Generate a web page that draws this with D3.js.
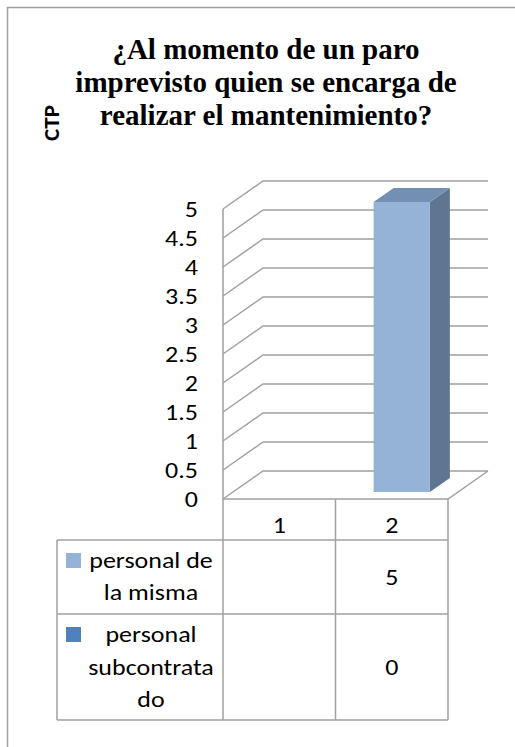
<!DOCTYPE html>
<html>
<head>
<meta charset="utf-8">
<script src="https://cdn.jsdelivr.net/npm/d3@7"></script>
<style>
    body { margin: 0; background: #fff; }
</style>
</head>
<body>
<div id="chart"></div>
<script>
    // chart data
    var titleLines = ["¿Al momento de un paro", "imprevisto quien se encarga de", "realizar el mantenimiento?"];
    var categories = ["1", "2"];
    var seriesNames = [["personal de", "la misma"], ["personal", "subcontrata", "do"]];
    var seriesColors = ["#95B3D7", "#4F81BD"];
    var series1 = [null, 5];
    var series2 = [null, 0];
    var yTicks = [0, 0.5, 1, 1.5, 2, 2.5, 3, 3.5, 4, 4.5, 5];

    var width = 515, height = 747;
    var svg = d3.select("#chart").append("svg")
        .attr("width", width)
        .attr("height", height);

    var gridColor = "#A0A0A0";
    var labelFont = "Carlito, Calibri, 'Open Sans', sans-serif";
    var labelSize = "23px";
    var stretch = 1.13;   // labels in the picture are a bit wider than Carlito

    // small helper for the stretched calibri-like labels
    function label(text, x, y, anchor) {
        return svg.append("text")
            .text(text)
            .attr("text-anchor", anchor || "middle")
            .attr("transform", "translate(" + x + "," + y + ") scale(" + stretch + ",1)")
            .attr("font-family", labelFont)
            .attr("font-size", labelSize)
            .attr("fill", "black");
    }

    // outer frame (clipped at right / bottom)
    svg.append("path")
        .attr("d", "M7.5," + height + "V7.5H" + width)
        .attr("fill", "none")
        .attr("stroke", gridColor)
        .attr("stroke-width", 1.5);

    // title
    var title = svg.selectAll("text.title")
        .data(titleLines)
        .enter()
        .append("text")
        .attr("class", "title")
        .text(function (d) { return d; })
        .attr("text-anchor", "middle")
        .attr("x", 266)
        .attr("y", function (d, i) { return 59 + i * 33; })
        .attr("font-family", "'Liberation Serif', 'Times New Roman', serif")
        .attr("font-weight", "bold")
        .attr("font-size", "29px")
        .attr("fill", "black");

    // axis title
    svg.append("text")
        .text("CTP")
        .attr("text-anchor", "middle")
        .attr("transform", "translate(59,123) rotate(-90)")
        .attr("font-family", labelFont)
        .attr("font-weight", "bold")
        .attr("font-size", "23px")
        .attr("fill", "black");

    // 3d plot geometry: front plane scales + depth offset
    var x = d3.scaleBand().domain(categories).range([223, 448]);
    var y = d3.scaleLinear().domain([0, 5]).range([499, 209]);
    var depthX = 40, depthY = -28;

    // left wall + back wall gridlines
    svg.selectAll("path.grid")
        .data(yTicks)
        .enter()
        .append("path")
        .attr("class", "grid")
        .attr("d", function (d) {
            return "M" + x.range()[0] + "," + y(d) +
                "L" + (x.range()[0] + depthX) + "," + (y(d) + depthY) +
                "H" + (x.range()[1] + depthX);
        })
        .attr("fill", "none")
        .attr("stroke", gridColor)
        .attr("stroke-width", 1.5);

    // left wall front edge and floor
    svg.append("path")
        .attr("d", "M" + x.range()[0] + "," + y(5) + "V" + y(0) + "H" + x.range()[1] +
            "L" + (x.range()[1] + depthX) + "," + (y(0) + depthY))
        .attr("fill", "none")
        .attr("stroke", gridColor)
        .attr("stroke-width", 1.5);

    // y tick labels
    yTicks.forEach(function (t) {
        label(t, 198, y(t) + 8, "end");
    });

    // bars (series 1 only has a visible column)
    var barW = x.bandwidth() * 0.5;
    var d0 = 0.25, d1 = 0.75;
    var bars = svg.selectAll("g.bar")
        .data(categories.map(function (c, i) { return { cat: c, value: series1[i] }; })
            .filter(function (d) { return d.value; }))
        .enter()
        .append("g")
        .attr("class", "bar");

    bars.each(function (d) {
        var g = d3.select(this);
        var fx = x(d.cat) + (x.bandwidth() - barW) / 2 + depthX * d0;
        var fyTop = y(d.value) + depthY * d0;
        var fyBot = y(0) + depthY * d0;
        var ox = depthX * (d1 - d0), oy = depthY * (d1 - d0);
        // side
        g.append("path")
            .attr("d", "M" + (fx + barW) + "," + fyTop + "L" + (fx + barW + ox) + "," + (fyTop + oy) +
                "V" + (fyBot + oy) + "L" + (fx + barW) + "," + fyBot + "Z")
            .attr("fill", "#5F7693");
        // top
        g.append("path")
            .attr("d", "M" + fx + "," + fyTop + "L" + (fx + ox) + "," + (fyTop + oy) +
                "H" + (fx + barW + ox) + "L" + (fx + barW) + "," + fyTop + "Z")
            .attr("fill", "#7390B2");
        // front
        g.append("rect")
            .attr("x", fx)
            .attr("y", fyTop)
            .attr("width", barW)
            .attr("height", fyBot - fyTop)
            .attr("fill", seriesColors[0]);
    });

    // data table
    var tableLeft = 57;
    var rowY = [499, 540, 614, 720];
    var tbl = svg.append("g").attr("stroke", gridColor).attr("stroke-width", 1.5).attr("fill", "none");
    // vertical lines
    x.domain().concat(["end"]).forEach(function (c, i) {
        var xx = i < categories.length ? x(c) : x.range()[1];
        tbl.append("line").attr("x1", xx).attr("x2", xx).attr("y1", rowY[0]).attr("y2", rowY[3]);
    });
    tbl.append("line").attr("x1", tableLeft).attr("x2", tableLeft).attr("y1", rowY[1]).attr("y2", rowY[3]);
    rowY.slice(1).forEach(function (yy) {
        tbl.append("line").attr("x1", tableLeft).attr("x2", x.range()[1]).attr("y1", yy).attr("y2", yy);
    });

    // header labels
    categories.forEach(function (c) {
        label(c, x(c) + x.bandwidth() / 2, 533);
    });

    // legend rows
    var rowLines = [[560, 592], [634, 667, 699]];
    var rowValues = [series1, series2];
    seriesNames.forEach(function (names, s) {
        svg.append("rect")
            .attr("x", 66)
            .attr("y", rowLines[s][0] - 7)
            .attr("width", 15)
            .attr("height", 15)
            .attr("fill", seriesColors[s]);
        names.forEach(function (n, k) {
            label(n, 151, rowLines[s][k] + 8);
        });
        rowValues[s].forEach(function (v, i) {
            if (v === null) return;
            label(v, x(categories[i]) + x.bandwidth() / 2, (rowY[s + 1] + rowY[s + 2]) / 2 + 8);
        });
    });
</script>
</body>
</html>
